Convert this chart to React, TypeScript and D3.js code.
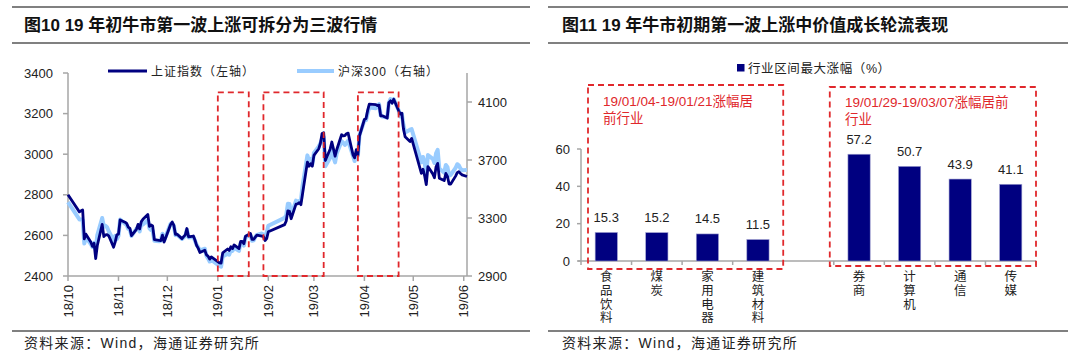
import React from "react";
import * as d3 from "d3";

// ---------- Left chart data ----------
const lineDates: string[] = [
  "2018-10-01","2018-10-08","2018-10-09","2018-10-10","2018-10-11","2018-10-12","2018-10-15","2018-10-16","2018-10-17","2018-10-18","2018-10-19",
  "2018-10-22","2018-10-23","2018-10-24","2018-10-25","2018-10-26","2018-10-29","2018-10-30","2018-10-31",
  "2018-11-01","2018-11-02","2018-11-05","2018-11-06","2018-11-07","2018-11-08","2018-11-09","2018-11-12","2018-11-13","2018-11-14","2018-11-15","2018-11-16",
  "2018-11-19","2018-11-20","2018-11-21","2018-11-22","2018-11-23","2018-11-26","2018-11-27","2018-11-28","2018-11-29","2018-11-30",
  "2018-12-03","2018-12-04","2018-12-05","2018-12-06","2018-12-07","2018-12-10","2018-12-11","2018-12-12","2018-12-13","2018-12-14",
  "2018-12-17","2018-12-18","2018-12-19","2018-12-20","2018-12-21","2018-12-24","2018-12-25","2018-12-26","2018-12-27","2018-12-28",
  "2019-01-02","2019-01-03","2019-01-04","2019-01-07","2019-01-08","2019-01-09","2019-01-10","2019-01-11","2019-01-14","2019-01-15","2019-01-16","2019-01-17","2019-01-18",
  "2019-01-21","2019-01-22","2019-01-23","2019-01-24","2019-01-25","2019-01-28","2019-01-29","2019-01-30","2019-01-31",
  "2019-02-01","2019-02-11","2019-02-12","2019-02-13","2019-02-14","2019-02-15","2019-02-18","2019-02-19","2019-02-20","2019-02-21","2019-02-22",
  "2019-02-25","2019-02-26","2019-02-27","2019-02-28",
  "2019-03-01","2019-03-04","2019-03-05","2019-03-06","2019-03-07","2019-03-08","2019-03-11","2019-03-12","2019-03-13","2019-03-14","2019-03-15",
  "2019-03-18","2019-03-19","2019-03-20","2019-03-21","2019-03-22","2019-03-25","2019-03-26","2019-03-27","2019-03-28","2019-03-29",
  "2019-04-01","2019-04-02","2019-04-03","2019-04-04","2019-04-08","2019-04-09","2019-04-10","2019-04-11","2019-04-12","2019-04-15",
  "2019-04-16","2019-04-17","2019-04-18","2019-04-19","2019-04-22","2019-04-23","2019-04-24","2019-04-25","2019-04-26","2019-04-29","2019-04-30",
  "2019-05-06","2019-05-07","2019-05-08","2019-05-09","2019-05-10","2019-05-13","2019-05-14","2019-05-15","2019-05-16","2019-05-17",
  "2019-05-20","2019-05-21","2019-05-22","2019-05-23","2019-05-24","2019-05-27","2019-05-28","2019-05-29","2019-05-30","2019-05-31","2019-06-03",
];

const shValues: number[] = [
  2800,2716,2721,2725,2583,2606,2568,2546,2561,2486,2550,
  2654,2594,2603,2604,2598,2542,2568,2603,
  2606,2676,2665,2659,2641,2635,2599,2630,2654,2632,2668,2679,
  2703,2645,2651,2646,2579,2575,2574,2601,2567,2588,
  2654,2666,2649,2605,2606,2584,2594,2602,2634,2593,
  2597,2576,2550,2536,2516,2527,2504,2498,2483,2494,
  2465,2464,2514,2533,2526,2544,2535,2553,2535,2570,2570,2559,2596,
  2610,2580,2581,2591,2601,2596,2594,2575,2584,
  2618,2653,2671,2721,2719,2682,2754,2755,2761,2751,2804,
  2961,2941,2953,2941,
  2994,3027,3054,3102,3106,2969,3026,3060,3026,2990,3022,
  3096,3090,3091,3101,3104,2997,2982,3022,2995,3091,
  3171,3176,3216,3247,3244,3239,3242,3189,3189,3178,
  3254,3263,3251,3271,3215,3198,3202,3124,3086,3063,3078,
  2906,2926,2893,2850,2939,2903,2884,2938,2955,2882,
  2870,2905,2891,2853,2853,2892,2909,2914,2905,2898,2890,
];

const csiValues: number[] = [
  3410,3290,3290,3287,3124,3166,3120,3100,3128,3086,3183,
  3300,3240,3246,3236,3209,3145,3177,3154,
  3177,3290,3260,3252,3225,3218,3176,3225,3230,3207,3262,3255,
  3286,3228,3216,3213,3143,3140,3143,3191,3144,3173,
  3261,3262,3245,3182,3184,3155,3165,3175,3220,3166,
  3169,3143,3114,3097,3077,3088,3039,3022,3000,3011,
  2969,2964,3035,3054,3047,3078,3073,3094,3073,3128,3127,3110,3168,
  3183,3143,3146,3169,3184,3193,3185,3168,3201,
  3247,3301,3318,3398,3396,3317,3420,3410,3417,3419,3520,
  3732,3695,3708,3669,
  3749,3794,3816,3843,3861,3657,3716,3765,3719,3683,3745,
  3830,3819,3804,3818,3834,3728,3693,3743,3729,3872,
  3973,3974,4022,4062,4057,4076,4085,4008,4000,3992,
  4095,4120,4105,4120,4043,4000,4018,3940,3889,3909,3913,
  3684,3721,3680,3600,3734,3708,3679,3746,3770,3641,
  3612,3666,3650,3592,3597,3645,3671,3663,3641,3630,3631,
];

const leftTicks: number[] = [2400, 2600, 2800, 3000, 3200, 3400];
const rightTicks: number[] = [2900, 3300, 3700, 4100];
const waveStarts: string[] = ["2019-01-01", "2019-01-29", "2019-03-28"];
const waveEnds: string[] = ["2019-01-20", "2019-03-07", "2019-04-22"];
const seriesNames: string[] = ["上证指数（左轴）", "沪深300（右轴）"];

// ---------- Right chart data ----------
const industries: string[] = ["食品饮料", "煤炭", "家用电器", "建筑材料", "", "券商", "计算机", "通信", "传媒"];
const maxGains: (number | null)[] = [15.3, 15.2, 14.5, 11.5, null, 57.2, 50.7, 43.9, 41.1];
const barTicks: number[] = [0, 20, 40, 60];
const barLegend = "行业区间最大涨幅（%）";
const groupNotes: string[][] = [
  ["19/01/04-19/01/21涨幅居", "前行业"],
  ["19/01/29-19/03/07涨幅居前", "行业"],
];

const FONT = '"Liberation Sans", Arial, "Noto Sans CJK SC", sans-serif';
const NAVY = "#000080";
const LIGHT = "#99CCFF";
const RED = "#E0282C";
const AXIS = "#A6A6A6";
const RULE = "#808080";

export default function App() {
  const parse = d3.timeParse("%Y-%m-%d");
  const dates = lineDates.map((d) => parse(d) as Date);

  // Left chart scales
  const x = d3.scaleTime().domain([new Date(2018, 9, 1), new Date(2019, 5, 3)]).range([68, 467]);
  const yL = d3.scaleLinear().domain([2400, 3400]).range([276, 73]);
  const yR = d3.scaleLinear().domain([2900, 4300]).range([276, 73]);
  const monthTicks = d3.timeMonth.range(new Date(2018, 9, 1), new Date(2019, 5, 2));
  const fmt = d3.timeFormat("%y/%m");

  const shLine = d3.line<number>().x((_, i) => x(dates[i])).y((d) => yL(d));
  const csiLine = d3.line<number>().x((_, i) => x(dates[i])).y((d) => yR(d));

  // Right chart scales
  const xb = d3.scaleBand<number>().domain(d3.range(industries.length)).range([581, 1036]);
  const yb = d3.scaleLinear().domain([0, 60]).range([261, 149]);
  const bw = xb.bandwidth();
  const barW = bw * 0.44;

  const boxTop = yL(3305);

  return (
    <svg width={1080} height={359} style={{ position: "absolute", left: 0, top: 0, background: "#fff" }} fontFamily={FONT}>
      <rect x={0} y={0} width={1080} height={359} fill="#fff" />

      {/* ===== Titles ===== */}
      <line x1={12} x2={530} y1={7} y2={7} stroke={RULE} strokeWidth={2} />
      <line x1={12} x2={530} y1={43} y2={43} stroke={RULE} strokeWidth={2} />
      <text x={24} y={31} fontSize={17} fontWeight="bold" fill="#111">图10 19 年初牛市第一波上涨可拆分为三波行情</text>
      <line x1={548} x2={1068} y1={7} y2={7} stroke={RULE} strokeWidth={2} />
      <line x1={548} x2={1068} y1={43} y2={43} stroke={RULE} strokeWidth={2} />
      <text x={562} y={31} fontSize={17} fontWeight="bold" fill="#111">图11 19 年牛市初期第一波上涨中价值成长轮流表现</text>

      {/* ===== Footers ===== */}
      <line x1={12} x2={530} y1={331} y2={331} stroke={RULE} strokeWidth={2} />
      <line x1={548} x2={1068} y1={331} y2={331} stroke={RULE} strokeWidth={2} />
      <text x={24} y={348} fontSize={14} letterSpacing={1.3} fill="#222">资料来源：Wind，海通证券研究所</text>
      <text x={562} y={348} fontSize={14} letterSpacing={1.3} fill="#222">资料来源：Wind，海通证券研究所</text>

      {/* ===== Left chart ===== */}
      <g>
        {/* axes */}
        <line x1={68} x2={68} y1={73} y2={276} stroke={AXIS} strokeWidth={1.5} />
        <line x1={467} x2={467} y1={73} y2={276} stroke={AXIS} strokeWidth={1.5} />
        <line x1={68} x2={467} y1={276} y2={276} stroke={AXIS} strokeWidth={1.5} />
        {leftTicks.map((t) => (
          <g key={"l" + t}>
            <line x1={63} x2={68} y1={yL(t)} y2={yL(t)} stroke={AXIS} strokeWidth={1.5} />
            <text x={53} y={yL(t)} dy="0.35em" textAnchor="end" fontSize={13} fill="#222">{t}</text>
          </g>
        ))}
        {rightTicks.map((t) => (
          <g key={"r" + t}>
            <line x1={467} x2={472} y1={yR(t)} y2={yR(t)} stroke={AXIS} strokeWidth={1.5} />
            <text x={478} y={yR(t)} dy="0.35em" textAnchor="start" fontSize={13} fill="#222">{t}</text>
          </g>
        ))}
        {monthTicks.map((m) => (
          <g key={"m" + m.getTime()}>
            <line x1={x(m)} x2={x(m)} y1={276} y2={281} stroke={AXIS} strokeWidth={1.5} />
            <text transform={`translate(${x(m)},285) rotate(-90)`} dy="0.35em" textAnchor="end" fontSize={13} fill="#222">{fmt(m)}</text>
          </g>
        ))}

        {/* series */}
        <path d={csiLine(csiValues) || ""} fill="none" stroke={LIGHT} strokeWidth={4} strokeLinejoin="round" />
        <path d={shLine(shValues) || ""} fill="none" stroke={NAVY} strokeWidth={2.8} strokeLinejoin="round" />

        {/* wave boxes */}
        {waveStarts.map((s, i) => {
          const x0 = x(parse(s) as Date);
          const x1 = x(parse(waveEnds[i]) as Date);
          return (
            <rect key={"w" + i} x={x0} y={boxTop} width={x1 - x0} height={yL(2400) - boxTop}
              fill="none" stroke={RED} strokeWidth={1.8} strokeDasharray="6,4" />
          );
        })}

        {/* legend */}
        <line x1={108} x2={147} y1={71} y2={71} stroke={NAVY} strokeWidth={3} />
        <text x={151} y={75.5} fontSize={12} letterSpacing={1} fill="#222">{seriesNames[0]}</text>
        <line x1={297} x2={334} y1={71} y2={71} stroke={LIGHT} strokeWidth={4} />
        <text x={338} y={75.5} fontSize={12} letterSpacing={1} fill="#222">{seriesNames[1]}</text>
      </g>

      {/* ===== Right chart ===== */}
      <g>
        <line x1={581} x2={581} y1={yb(60)} y2={yb(0)} stroke={AXIS} strokeWidth={1.5} />
        <line x1={578} x2={1036} y1={yb(0)} y2={yb(0)} stroke={AXIS} strokeWidth={1.5} />
        {barTicks.map((t) => (
          <g key={"b" + t}>
            <line x1={577} x2={581} y1={yb(t)} y2={yb(t)} stroke={AXIS} strokeWidth={1.5} />
            <text x={570} y={yb(t)} dy="0.35em" textAnchor="end" fontSize={13} fill="#222">{t}</text>
          </g>
        ))}
        {d3.range(industries.length + 1).map((i) => {
          const xx = i < industries.length ? (xb(i) as number) : (xb(industries.length - 1) as number) + bw;
          return <line key={"bt" + i} x1={xx} x2={xx} y1={yb(0)} y2={yb(0) + 4} stroke={AXIS} strokeWidth={1.5} />;
        })}

        {maxGains.map((v, i) => {
          if (v == null) return null;
          const cx = (xb(i) as number) + bw / 2;
          return (
            <g key={"bar" + i}>
              <rect x={cx - barW / 2} y={yb(v)} width={barW} height={yb(0) - yb(v)} fill={NAVY} stroke="#9fa0d0" strokeWidth={0.6} />
              <text x={cx} y={yb(v) - 10.5} textAnchor="middle" fontSize={13} fill="#222">{v.toFixed(1)}</text>
            </g>
          );
        })}

        {industries.map((name, i) => {
          const cx = (xb(i) as number) + bw / 2;
          return (
            <g key={"cat" + i}>
              {Array.from(name).map((ch, j) => (
                <text key={j} x={cx} y={277 + j * 13.7} dy="0.35em" textAnchor="middle" fontSize={12.5} fill="#222">{ch}</text>
              ))}
            </g>
          );
        })}

        {/* group boxes */}
        <rect x={(xb(0) as number) + 7} y={85} width={(xb(3) as number) + bw - (xb(0) as number) - 7} height={184}
          fill="none" stroke={RED} strokeWidth={1.8} strokeDasharray="6,4" />
        <rect x={(xb(5) as number) - 4} y={87} width={(xb(8) as number) + bw - (xb(5) as number) + 4} height={179}
          fill="none" stroke={RED} strokeWidth={1.8} strokeDasharray="6,4" />
        {groupNotes[0].map((line, j) => (
          <text key={"n0" + j} x={603} y={106 + j * 17} fontSize={13.5} fill={RED}>{line}</text>
        ))}
        {groupNotes[1].map((line, j) => (
          <text key={"n1" + j} x={845} y={107 + j * 16.5} fontSize={13.5} fill={RED}>{line}</text>
        ))}

        {/* legend */}
        <rect x={737} y={64} width={7.5} height={7.5} fill={NAVY} />
        <text x={748} y={73} fontSize={12.5} letterSpacing={0.6} fill="#222">{barLegend}</text>
      </g>
    </svg>
  );
}
